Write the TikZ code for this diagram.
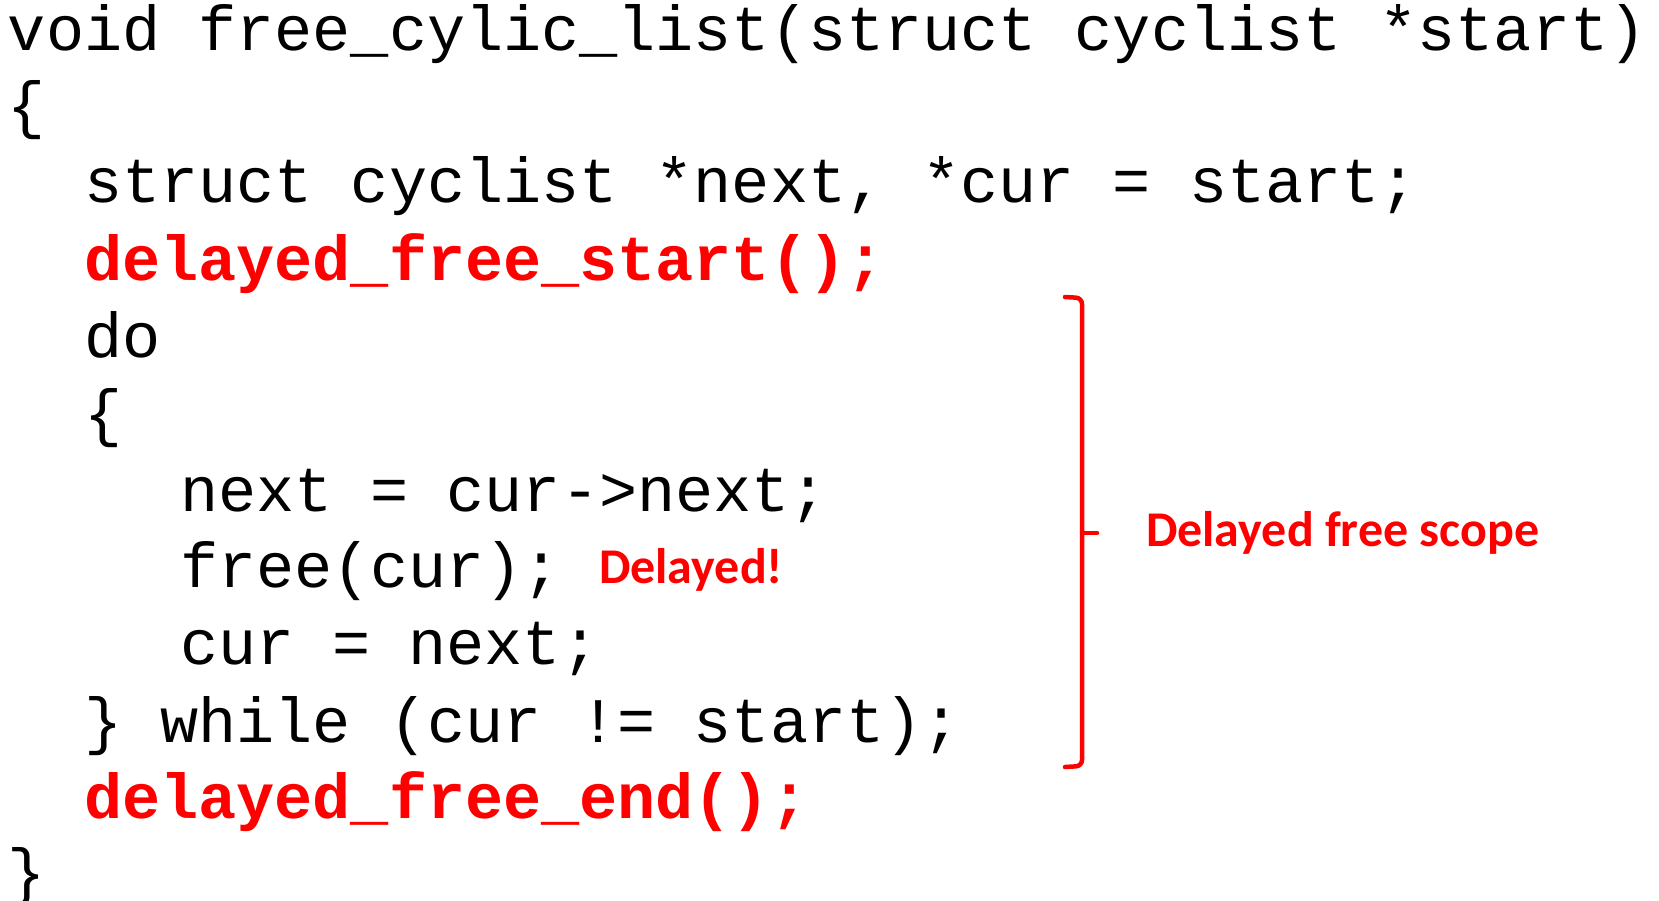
\documentclass[tikz,border=0pt]{standalone}
\usepackage{fontspec}
\setmonofont{Liberation Mono}
\newfontfamily\lblfont{Carlito}
\definecolor{codered}{RGB}{255,0,0}
\tikzset{
  codeline/.style={anchor=base west, inner sep=0pt, outer sep=0pt, font=\fontsize{63.5}{70}\ttfamily, text=black},
  redline/.style={codeline, font=\fontsize{63.5}{70}\ttfamily\bfseries, text=codered},
  note/.style={anchor=base west, inner sep=0pt, outer sep=0pt, font=\fontsize{50}{56}\lblfont\bfseries, text=codered},
  brk/.style={draw=codered, line width=4.5pt, line cap=round, line join=round}
}
\begin{document}
\frenchspacing
\begin{tikzpicture}[x=1pt,y=-1pt]
\useasboundingbox (0,0) rectangle (1659,901);
\begin{scope}
\clip (0,0) rectangle (1659,901);
\node[codeline] (l1) at (8,51) {void free\_cylic\_list(struct cyclist *start)};
\node[codeline] (l2) at (8,127) {\{};
\node[codeline] (l3) at (84.2,203) {struct cyclist *next, *cur = start;};
\node[redline] (l4) at (84.2,280) {delayed\_free\_start();};
\node[codeline] (l5) at (84.2,357) {do};
\node[codeline] (l6) at (84.2,434) {\{};
\node[codeline] (l7) at (180,511) {next = cur->next;};
\node[codeline] (l8) at (180,587) {free(cur);};
\node[codeline] (l9) at (180,664) {cur = next;};
\node[codeline] (l10) at (84.2,742) {\} while (cur != start);};
\node[redline] (l11) at (84.2,818) {delayed\_free\_end();};
\node[codeline] (l12) at (8,893) {\}};
\end{scope}
\node[note] (delayed) at (599,583) {Delayed!};
\node[note] (scope) at (1146,546) {Delayed free scope};
\coordinate (btop) at (1065,297);
\coordinate (bmid) at (1082,533);
\coordinate (btick) at (1097,533);
\coordinate (bbot) at (1065,767);
\draw[brk, rounded corners=6pt] (btop) -- (1082,298) -- (1082,766) -- (bbot);
\draw[brk] (bmid) -- (btick);
\end{tikzpicture}
\end{document}
